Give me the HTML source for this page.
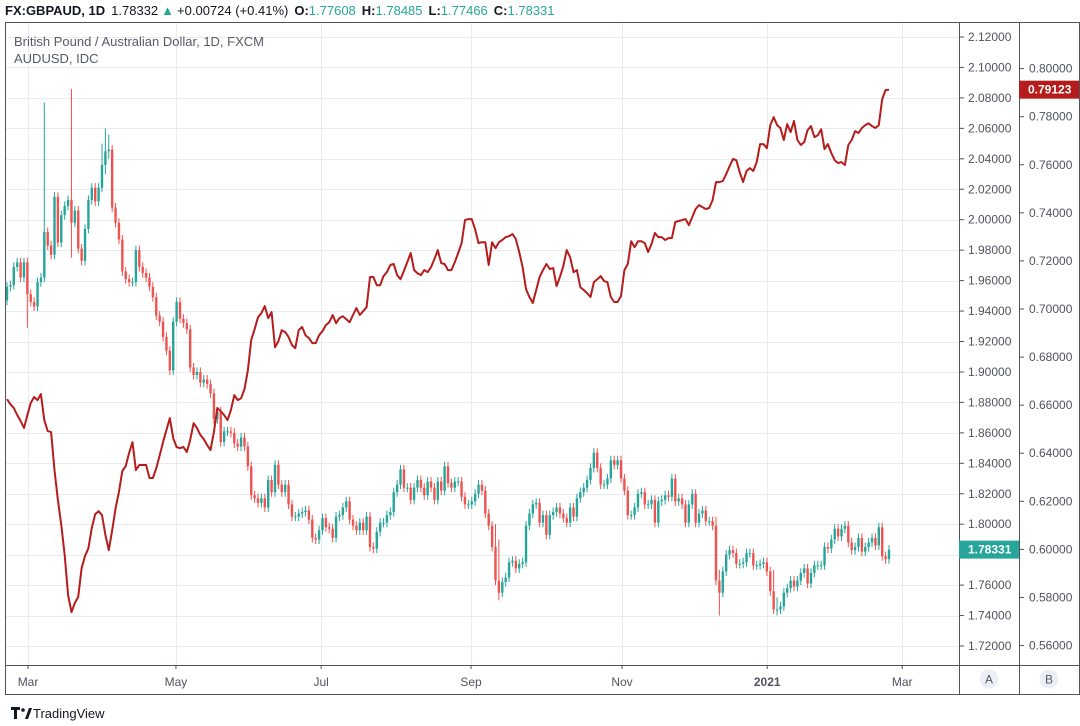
<!DOCTYPE html>
<html><head><meta charset="utf-8"><title>GBPAUD vs AUDUSD</title>
<style>
html,body{margin:0;padding:0;background:#fff;}
svg{display:block;font-family:"Liberation Sans",sans-serif;}
</style></head>
<body>
<svg id="chart" width="1080" height="726" viewBox="0 0 1080 726">
  <rect x="0" y="0" width="1080" height="726" fill="#fff"/>
  <g id="grid"></g>
  <g id="marks"></g>
  <!-- frame -->
  <g stroke="#50535e" stroke-width="1" fill="none">
    <line x1="5.5" y1="22" x2="5.5" y2="694"/>
    <line x1="5" y1="22.5" x2="1080" y2="22.5"/>
    <line x1="959.5" y1="22" x2="959.5" y2="694"/>
    <line x1="1019.5" y1="22" x2="1019.5" y2="694"/>
    <line x1="1079.5" y1="22" x2="1079.5" y2="694"/>
    <line x1="5" y1="665.5" x2="1080" y2="665.5"/>
    <line x1="5" y1="694.5" x2="1080" y2="694.5"/>
  </g>
  <g id="axisA"></g>
  <g id="axisB"></g>
  <g id="xaxis"></g>
  <!-- header -->
  <text x="5" y="15" font-size="13" fill="#131722"><tspan font-weight="bold">FX:GBPAUD, 1D</tspan><tspan dx="6">1.78332</tspan><tspan dx="3" fill="#26a69a">▲</tspan><tspan dx="3">+0.00724 (+0.41%)</tspan><tspan dx="6" font-weight="bold">O:</tspan><tspan fill="#26a69a">1.77608</tspan><tspan dx="6" font-weight="bold">H:</tspan><tspan fill="#26a69a">1.78485</tspan><tspan dx="6" font-weight="bold">L:</tspan><tspan fill="#26a69a">1.77466</tspan><tspan dx="6" font-weight="bold">C:</tspan><tspan fill="#26a69a">1.78331</tspan></text>
  <text x="14" y="46" font-size="13" fill="#555b66">British Pound / Australian Dollar, 1D, FXCM</text>
  <text x="14" y="63" font-size="13" fill="#555b66">AUDUSD, IDC</text>
  <!-- A B buttons -->
  <circle cx="989" cy="679" r="9.5" fill="#eceff5"/>
  <text x="989" y="683.5" font-size="12" fill="#555b66" text-anchor="middle">A</text>
  <circle cx="1049" cy="679" r="9.5" fill="#eceff5"/>
  <text x="1049" y="683.5" font-size="12" fill="#555b66" text-anchor="middle">B</text>
  <!-- footer -->
  <g>
    <path d="M11 707 h9 v3 h-3 v9 h-3 v-9 h-3 z" fill="#131722"/>
    <circle cx="23" cy="710" r="1.8" fill="#131722"/>
    <path d="M25 719 l4 -11 h3 l-4 11 z" fill="#131722"/>
    <text x="33" y="718" font-size="13" fill="#131722">TradingView</text>
  </g>
</svg>
<script>
const closes = [1.956,1.957,1.969,1.972,1.962,1.972,1.951,1.946,1.943,1.959,1.962,1.992,1.983,1.977,2.015,1.985,2.003,2.009,2.013,1.998,2.006,1.981,1.973,1.994,2.013,2.021,2.012,2.021,2.036,2.045,2.046,2.008,1.998,1.987,1.966,1.961,1.959,1.959,1.980,1.969,1.965,1.962,1.956,1.949,1.937,1.933,1.923,1.914,1.901,1.933,1.946,1.935,1.932,1.928,1.903,1.898,1.900,1.893,1.895,1.892,1.886,1.869,1.874,1.854,1.861,1.861,1.860,1.853,1.851,1.857,1.851,1.838,1.819,1.817,1.814,1.817,1.811,1.829,1.821,1.839,1.826,1.821,1.826,1.813,1.805,1.805,1.807,1.808,1.809,1.803,1.791,1.790,1.796,1.804,1.798,1.797,1.791,1.805,1.806,1.811,1.815,1.803,1.799,1.796,1.801,1.796,1.805,1.785,1.784,1.795,1.801,1.801,1.806,1.808,1.821,1.826,1.836,1.824,1.824,1.816,1.824,1.829,1.824,1.819,1.828,1.824,1.816,1.828,1.822,1.838,1.827,1.824,1.828,1.828,1.818,1.813,1.813,1.815,1.820,1.826,1.822,1.807,1.799,1.785,1.763,1.755,1.762,1.765,1.775,1.776,1.771,1.774,1.775,1.799,1.807,1.813,1.814,1.801,1.806,1.793,1.806,1.808,1.811,1.807,1.804,1.801,1.811,1.805,1.817,1.821,1.824,1.829,1.837,1.847,1.837,1.826,1.826,1.830,1.842,1.839,1.842,1.830,1.822,1.806,1.806,1.811,1.820,1.821,1.813,1.813,1.816,1.801,1.815,1.816,1.819,1.818,1.830,1.815,1.817,1.813,1.801,1.813,1.820,1.801,1.807,1.809,1.802,1.802,1.799,1.763,1.755,1.769,1.780,1.783,1.781,1.774,1.774,1.775,1.781,1.781,1.773,1.773,1.774,1.775,1.769,1.756,1.744,1.744,1.746,1.755,1.758,1.763,1.759,1.763,1.768,1.771,1.761,1.768,1.773,1.773,1.773,1.785,1.784,1.790,1.797,1.792,1.797,1.799,1.788,1.783,1.785,1.791,1.782,1.785,1.788,1.791,1.786,1.798,1.779,1.777,1.78331];
const firstOpen = 1.947;
const spikeIdx = [6, 11, 19, 28, 29, 30, 144, 145, 209, 210, 226, 227];
const spikeHigh = [1.972, 2.077, 2.086, 2.050, 2.060, 2.056, 1.800, 1.790, 1.805, 1.770, 1.770, 1.752];
const spikeLow = [1.929, 1.978, 1.975, 2.020, 2.030, 2.040, 1.775, 1.750, 1.770, 1.740, 1.744, 1.740];
const audusd = [0.6625,0.6604,0.6588,0.6559,0.6534,0.6505,0.6559,0.6609,0.6634,0.6621,0.6646,0.6538,0.6492,0.6488,0.6330,0.6205,0.6101,0.5976,0.5810,0.5739,0.5777,0.5802,0.5922,0.5972,0.6005,0.6089,0.6147,0.6159,0.6143,0.6060,0.5997,0.6080,0.6172,0.6238,0.6326,0.6346,0.6401,0.6446,0.6330,0.6351,0.6351,0.6351,0.6297,0.6297,0.6338,0.6392,0.6446,0.6496,0.6546,0.6463,0.6426,0.6421,0.6426,0.6405,0.6455,0.6525,0.6505,0.6476,0.6459,0.6434,0.6413,0.6488,0.6588,0.6575,0.6559,0.6538,0.6579,0.6642,0.6621,0.6629,0.6667,0.6746,0.6871,0.6916,0.6966,0.6983,0.7012,0.6962,0.6987,0.6841,0.6866,0.6912,0.6904,0.6883,0.6850,0.6837,0.6912,0.6925,0.6891,0.6879,0.6858,0.6858,0.6891,0.6908,0.6933,0.6945,0.6975,0.6941,0.6962,0.6970,0.6958,0.6945,0.6975,0.7004,0.6975,0.6991,0.7008,0.7133,0.7133,0.7099,0.7099,0.7137,0.7153,0.7183,0.7187,0.7141,0.7124,0.7158,0.7195,0.7233,0.7162,0.7149,0.7141,0.7162,0.7153,0.7174,0.7208,0.7245,0.7191,0.7187,0.7162,0.7162,0.7195,0.7233,0.7274,0.7370,0.7374,0.7374,0.7332,0.7274,0.7278,0.7278,0.7183,0.7278,0.7253,0.7278,0.7287,0.7299,0.7303,0.7312,0.7291,0.7237,0.7174,0.7083,0.7050,0.7025,0.7079,0.7133,0.7162,0.7187,0.7166,0.7170,0.7095,0.7133,0.7178,0.7245,0.7216,0.7153,0.7162,0.7091,0.7079,0.7066,0.7050,0.7112,0.7124,0.7137,0.7116,0.7112,0.7050,0.7029,0.7029,0.7054,0.7162,0.7187,0.7282,0.7257,0.7282,0.7282,0.7274,0.7237,0.7270,0.7316,0.7299,0.7299,0.7287,0.7295,0.7295,0.7362,0.7366,0.7370,0.7374,0.7349,0.7382,0.7416,0.7432,0.7424,0.7416,0.7420,0.7453,0.7528,0.7528,0.7532,0.7561,0.7594,0.7624,0.7619,0.7569,0.7528,0.7574,0.7586,0.7574,0.7611,0.7686,0.7686,0.7669,0.7765,0.7798,0.7765,0.7753,0.7703,0.7769,0.7736,0.7782,0.7703,0.7682,0.7694,0.7744,0.7761,0.7715,0.7723,0.7748,0.7665,0.7686,0.7649,0.7619,0.7607,0.7611,0.7599,0.7682,0.7703,0.7740,0.7732,0.7753,0.7765,0.7773,0.7761,0.7753,0.7765,0.7873,0.7911,0.79123];
const ticksA = [2.12,2.10,2.08,2.06,2.04,2.02,2.00,1.98,1.96,1.94,1.92,1.90,1.88,1.86,1.84,1.82,1.80,1.78,1.76,1.74,1.72];
const ticksB = [0.80,0.78,0.76,0.74,0.72,0.70,0.68,0.66,0.64,0.62,0.60,0.58,0.56];
const monthLabels = ["Mar","May","Jul","Sep","Nov","2021","Mar"];
const monthIdx = [6.2, 49.8, 92.6, 136.8, 181.3, 224.1, 263.9];

const NS = "http://www.w3.org/2000/svg";
const X0 = 7, X1 = 889;
function xPos(i){ return X0 + i*(X1-X0)/(closes.length-1); }
function yA(p){ return 37 + (2.12 - p)*1522.5; }
function yB(p){ return 68.6 + (0.80 - p)*2404; }
function mk(tag, attrs, parent){ const e=document.createElementNS(NS,tag); for(const k in attrs) e.setAttribute(k,attrs[k]); parent.appendChild(e); return e; }

const grid = document.getElementById('grid');
ticksA.forEach(t=>{
  const y = Math.round(yA(t))+0.5;
  const l = mk('line',{x1:6,x2:959,y1:y,y2:y,stroke:'#e6ecf2','stroke-width':1},grid);
  
  
});
monthIdx.forEach(m=>{
  const x = Math.round(xPos(m))+0.5;
  const l = mk('line',{x1:x,x2:x,y1:23,y2:665,stroke:'#e6ecf2','stroke-width':1},grid);
  
  
});

const marks = document.getElementById('marks');
const candles = mk('g',{},marks);


closes.forEach((c,i)=>{
  const o = i===0 ? firstOpen : closes[i-1];
  let hi = Math.max(o,c)+0.003, lo = Math.min(o,c)-0.003;
  const s = spikeIdx.indexOf(i);
  if(s>=0){ hi = Math.max(hi, spikeHigh[s]); lo = Math.min(lo, spikeLow[s]); }
  const col = c>=o ? '#26a69a' : '#ef5350';
  const x = xPos(i);
  const g = mk('g',{},candles);
  
  
  mk('line',{x1:x,x2:x,y1:yA(hi),y2:yA(lo),stroke:col,'stroke-width':1},g);
  const yt = yA(Math.max(o,c)), yb = yA(Math.min(o,c));
  mk('rect',{x:x-1.2,y:yt,width:2.4,height:Math.max(1,yb-yt),fill:col},g);
});

let d='';
audusd.forEach((v,i)=>{ d += (i?'L':'M') + xPos(i).toFixed(1)+' '+yB(v).toFixed(1)+' '; });
const line = mk('path',{d:d,fill:'none',stroke:'#b71c1c','stroke-width':2,'stroke-linejoin':'round'},marks);



const axA = document.getElementById('axisA');
ticksA.forEach(t=>{
  const y = yA(t);
  mk('line',{x1:959,x2:964,y1:y,y2:y,stroke:'#50535e'},axA);
  const tx = mk('text',{x:968,y:y+4,'font-size':12,fill:'#50535e'},axA);
  tx.textContent = t.toFixed(5);
  
  
});
const axB = document.getElementById('axisB');
ticksB.forEach(t=>{
  const y = yB(t);
  mk('line',{x1:1019,x2:1024,y1:y,y2:y,stroke:'#50535e'},axB);
  const tx = mk('text',{x:1029,y:y+4,'font-size':12,fill:'#50535e'},axB);
  tx.textContent = t.toFixed(5);
  
  
});
// last value badges
const lastA = closes[closes.length-1], lastB = audusd[audusd.length-1];
const ba = mk('g',{},axA);


mk('rect',{x:959,y:yA(lastA)-9,width:60,height:18,fill:'#26a69a'},ba);
mk('text',{x:968,y:yA(lastA)+4,'font-size':12,'font-weight':'bold',fill:'#fff'},ba).textContent = lastA.toFixed(5);
const bb = mk('g',{},axB);


mk('rect',{x:1019,y:yB(lastB)-9,width:60,height:18,fill:'#b71c1c'},bb);
mk('text',{x:1028,y:yB(lastB)+4,'font-size':12,'font-weight':'bold',fill:'#fff'},bb).textContent = lastB.toFixed(5);

const xa = document.getElementById('xaxis');
monthLabels.forEach((m,k)=>{
  const x = xPos(monthIdx[k]);
  mk('line',{x1:x,x2:x,y1:665,y2:669,stroke:'#50535e'},xa);
  const tx = mk('text',{x:x,y:686,'font-size':12,fill:'#50535e','text-anchor':'middle','font-weight':m==='2021'?'bold':'normal'},xa);
  tx.textContent = m;
  
  
});
</script>
</body></html>
